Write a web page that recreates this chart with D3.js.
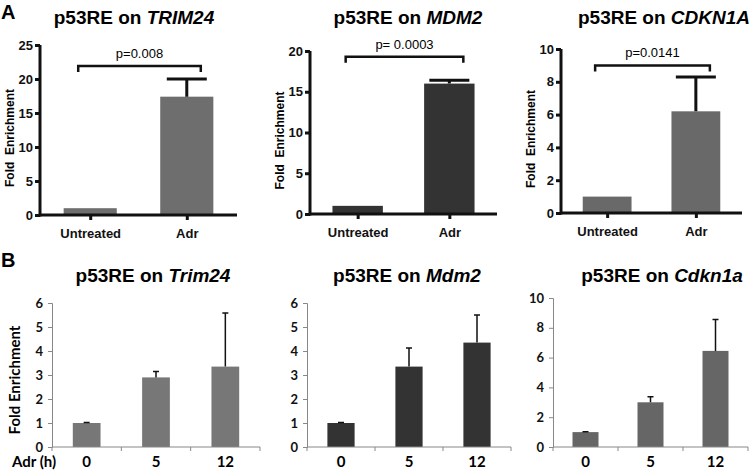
<!DOCTYPE html>
<html>
<head>
<meta charset="utf-8">
<script src="https://cdn.jsdelivr.net/npm/d3@7"></script>
<style>
  body { margin: 0; background: #fff; }
  svg { display: block; }
</style>
</head>
<body>
<script>
// ---- data ----
var groupsA = ["Untreated", "Adr"];
var trimA = [1, 17.4], trimAErr = [0, 2.6];
var mdmA = [1, 16.0], mdmAErr = [0, 0.4];
var cdkA = [1, 6.2], cdkAErr = [0, 2.1];
var pLabels = ["p=0.008", "p= 0.0003", "p=0.0141"];
var bracketLevels = [21.9, 19.3, 9.0];

var hoursB = ["0", "5", "12"];
var trimB = [1, 2.9, 3.35], trimBErr = [0.02, 0.25, 2.23];
var mdmB = [1, 3.35, 4.35], mdmBErr = [0.02, 0.78, 1.15];
var cdkB = [1, 3.0, 6.45], cdkBErr = [0.03, 0.37, 2.1];

var width = 750, height = 476;
var svg = d3.select("body").append("svg")
    .attr("width", width)
    .attr("height", height);

var fontA = "'Liberation Sans', Arial, sans-serif";
var fontB = "Lato, 'Open Sans', sans-serif";

function title(cx, y, gene) {
    var t = svg.append("text")
        .attr("x", cx).attr("y", y)
        .attr("text-anchor", "middle")
        .style("font-family", fontA)
        .style("font-weight", "bold")
        .style("font-size", "19px");
    t.append("tspan").text("p53RE on ");
    t.append("tspan").style("font-style", "italic").text(gene);
}

// panel A: prism-style bars with thick axes
function panelA(cfg) {
    var y = d3.scaleLinear().domain([0, cfg.max]).range([cfg.y0, cfg.y1]);
    var x = d3.scalePoint().domain(groupsA).range([cfg.x0, cfg.x1]).padding(0.52);
    var bw = x.step() * 0.55;

    svg.selectAll(null).data(cfg.values).enter().append("rect")
        .attr("x", function(d, i) { return x(groupsA[i]) - bw / 2; })
        .attr("y", function(d) { return y(d); })
        .attr("width", bw)
        .attr("height", function(d) { return y(0) - y(d); })
        .attr("fill", cfg.color);

    // error bars (upper only)
    cfg.values.forEach(function(v, i) {
        if (!cfg.err[i]) return;
        var cx = x(groupsA[i]);
        svg.append("path")
            .attr("d", "M" + cx + "," + y(v) + "V" + y(v + cfg.err[i]) +
                "M" + (cx - 20) + "," + y(v + cfg.err[i]) + "H" + (cx + 20))
            .attr("stroke", "#111").attr("stroke-width", 3).attr("fill", "none");
    });

    var yAxis = svg.append("g")
        .attr("transform", "translate(" + cfg.x0 + ",0)")
        .call(d3.axisLeft(y).tickValues(d3.range(0, cfg.max + 0.001, cfg.step)).tickSize(5).tickPadding(2));
    var xAxis = svg.append("g")
        .attr("transform", "translate(0," + cfg.y0 + ")")
        .call(d3.axisBottom(x).tickSize(5).tickPadding(5));
    [yAxis, xAxis].forEach(function(g) {
        g.select(".domain").attr("stroke", "#111").attr("stroke-width", 3);
        g.selectAll(".tick line").attr("stroke", "#111").attr("stroke-width", 3);
        g.selectAll("text")
            .style("font-family", fontA).style("font-weight", "bold")
            .style("font-size", "13px").attr("fill", "#111");
    });
    yAxis.select(".domain").attr("d", "M0," + (cfg.y0 + 1.5) + "V" + cfg.y1);
    xAxis.select(".domain").attr("d", "M" + cfg.x0 + ",0H" + cfg.x1);
    xAxis.selectAll("text").attr("dy", "1em");

    svg.append("text")
        .attr("transform", "translate(" + (cfg.x0 - 26) + "," + ((cfg.y0 + cfg.y1) / 2 + 8) + ") rotate(-90)")
        .attr("text-anchor", "middle")
        .style("font-family", fontA).style("font-weight", "bold").style("font-size", "12px")
        .style("white-space", "pre")
        .text("Fold  Enrichment");

    // significance bracket
    var bx0 = x(groupsA[0]) - 12, bx1 = x(groupsA[1]) + 14, by = y(cfg.bracket);
    svg.append("path")
        .attr("d", "M" + bx0 + "," + (by + 6) + "V" + by + "H" + bx1 + "V" + (by + 6))
        .attr("stroke", "#111").attr("stroke-width", 2.5).attr("fill", "none");
    svg.append("text")
        .attr("x", (bx0 + bx1) / 2).attr("y", by - 8)
        .attr("text-anchor", "middle")
        .style("font-family", fontA).style("font-size", "13px")
        .text(cfg.p);

    title(cfg.tx, 24, cfg.gene);
}

// panel B: excel-style bars with thin axes
function panelB(cfg) {
    var y = d3.scaleLinear().domain([0, cfg.max]).range([cfg.y0, cfg.y1]);
    var x = d3.scaleBand().domain(hoursB).range([cfg.x0, cfg.x1])
        .paddingInner(0.6).paddingOuter(0.3);

    svg.selectAll(null).data(cfg.values).enter().append("rect")
        .attr("x", function(d, i) { return x(hoursB[i]); })
        .attr("y", function(d) { return y(d); })
        .attr("width", x.bandwidth())
        .attr("height", function(d) { return y(0) - y(d); })
        .attr("fill", cfg.color);

    cfg.values.forEach(function(v, i) {
        var cx = x(hoursB[i]) + x.bandwidth() / 2, top = y(v + cfg.err[i]);
        svg.append("path")
            .attr("d", "M" + cx + "," + y(v) + "V" + top + "M" + (cx - 3) + "," + top + "H" + (cx + 3))
            .attr("stroke", "#111").attr("stroke-width", 1.5).attr("fill", "none");
    });

    var yAxis = svg.append("g")
        .attr("transform", "translate(" + cfg.x0 + ",0)")
        .call(d3.axisLeft(y).tickValues(d3.range(0, cfg.max + 0.001, cfg.step))
            .tickFormat(d3.format("d")).tickSize(4).tickPadding(5));
    yAxis.selectAll("text")
        .style("font-family", fontB).style("font-weight", "bold")
        .style("font-size", "13px").attr("fill", "#111");
    yAxis.selectAll(".domain, .tick line").attr("stroke", "#888");

    // x axis line with ticks between categories
    var step = x.step();
    var xt = d3.range(0, hoursB.length + 1).map(function(i) { return cfg.x0 + i * step; });
    svg.append("path")
        .attr("d", "M" + cfg.x0 + "," + cfg.y0 + "H" + cfg.x1 +
            xt.map(function(t) { return "M" + t + "," + cfg.y0 + "v4"; }).join(""))
        .attr("stroke", "#888").attr("fill", "none");

    svg.selectAll(null).data(hoursB).enter().append("text")
        .attr("x", function(d) { return x(d) + x.bandwidth() / 2; })
        .attr("y", 467)
        .attr("text-anchor", "middle")
        .style("font-family", fontB).style("font-weight", "bold").style("font-size", "15px")
        .text(function(d) { return d; });

    title(cfg.tx, 282, cfg.gene);
}

panelA({ x0: 40, x1: 237, y0: 215, y1: 45, max: 25, step: 5, values: trimA, err: trimAErr,
    color: "#6e6e6e", bracket: bracketLevels[0], p: pLabels[0], gene: "TRIM24", tx: 134 });
panelA({ x0: 310, x1: 497, y0: 214, y1: 51, max: 20, step: 5, values: mdmA, err: mdmAErr,
    color: "#333333", bracket: bracketLevels[1], p: pLabels[1], gene: "MDM2", tx: 408 });
panelA({ x0: 561, x1: 742, y0: 213, y1: 49, max: 10, step: 2, values: cdkA, err: cdkAErr,
    color: "#696969", bracket: bracketLevels[2], p: pLabels[2], gene: "CDKN1A", tx: 664 });

panelB({ x0: 52, x1: 260, y0: 447, y1: 303, max: 6, step: 1, values: trimB, err: trimBErr,
    color: "#777777", gene: "Trim24", tx: 153 });
panelB({ x0: 307, x1: 511, y0: 447, y1: 303, max: 6, step: 1, values: mdmB, err: mdmBErr,
    color: "#333333", gene: "Mdm2", tx: 407 });
panelB({ x0: 553, x1: 748, y0: 447, y1: 298, max: 10, step: 2, values: cdkB, err: cdkBErr,
    color: "#666666", gene: "Cdkn1a", tx: 662 });

// B axis caption and y-label
svg.append("text").attr("x", 12).attr("y", 467)
    .style("font-family", fontB).style("font-weight", "bold").style("font-size", "15px")
    .style("white-space", "pre")
    .text("Adr (h)");
svg.append("text")
    .attr("transform", "translate(20,380) rotate(-90)")
    .attr("text-anchor", "middle")
    .style("font-family", fontB).style("font-weight", "bold").style("font-size", "15px")
    .text("Fold Enrichment");

// panel letters
svg.append("text").attr("x", 1).attr("y", 19)
    .style("font-family", fontA).style("font-weight", "bold").style("font-size", "20px").text("A");
svg.append("text").attr("x", 1).attr("y", 267)
    .style("font-family", fontA).style("font-weight", "bold").style("font-size", "20px").text("B");
</script>
</body>
</html>
